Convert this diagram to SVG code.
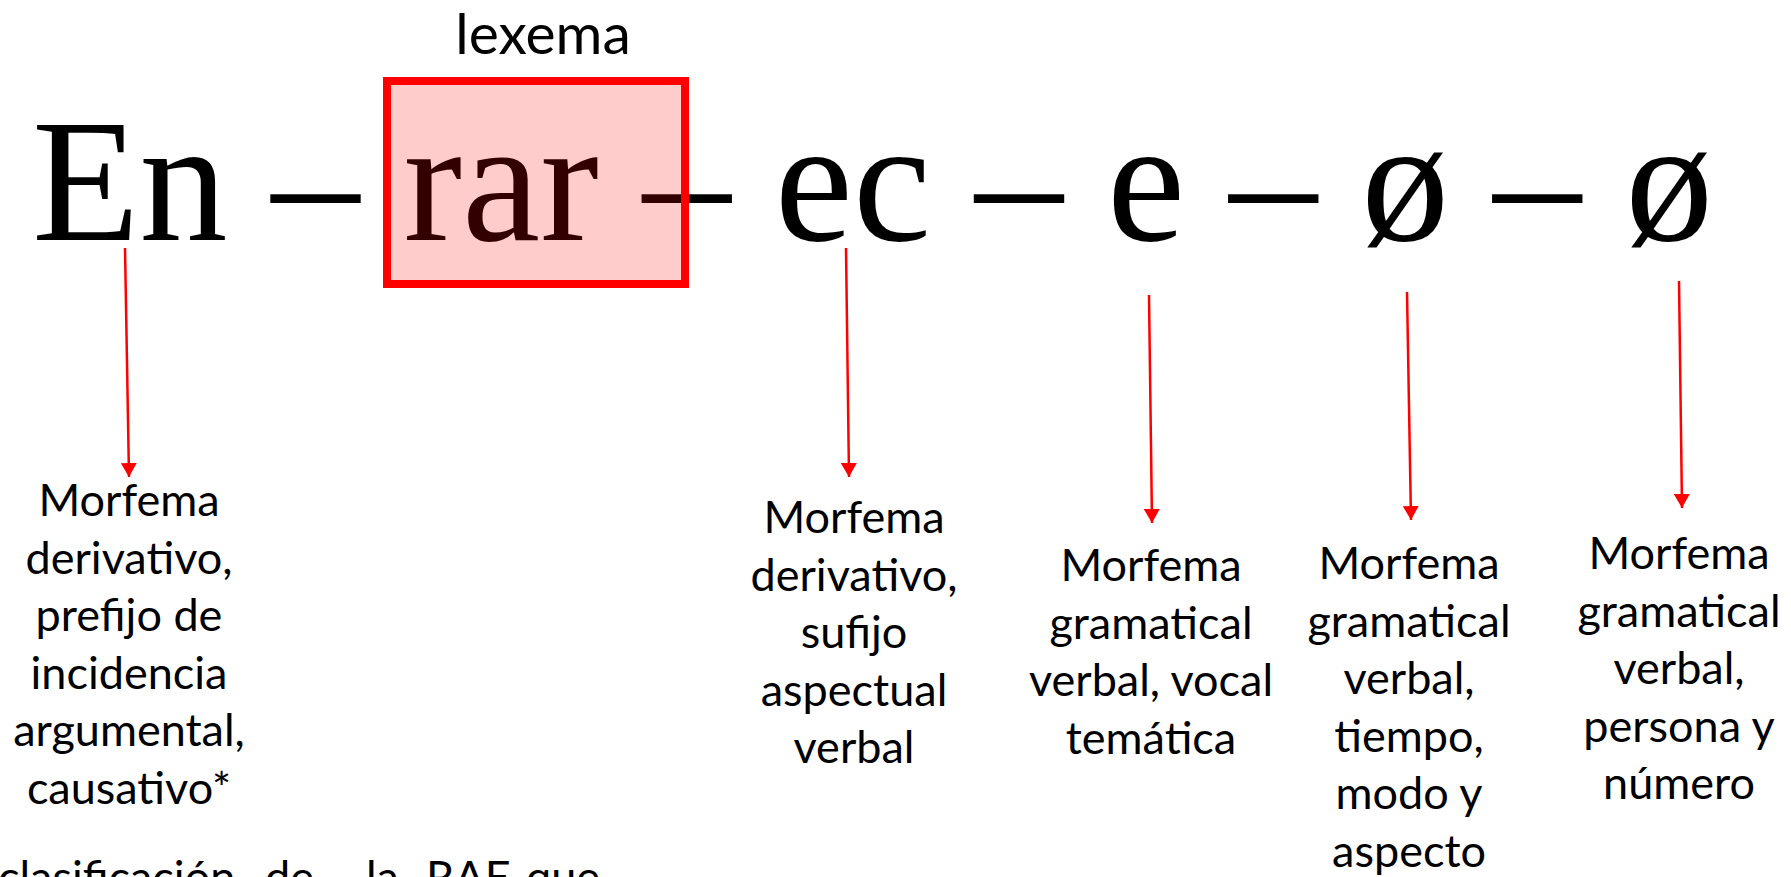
<svg xmlns="http://www.w3.org/2000/svg" width="1791" height="877" viewBox="0 0 1791 877">
<style>
.main{font-family:"Liberation Serif","Times New Roman",serif;font-size:176px;fill:#000}
.lab{font-family:Lato,"Open Sans",sans-serif;font-size:45px;fill:#000;text-anchor:middle}
.lex{font-family:Lato,"Open Sans",sans-serif;font-size:57px;fill:#000;text-anchor:middle}
.cap{font-family:Lato,"Open Sans",sans-serif;font-size:45px;fill:#000}
.arr{stroke:#FF0000;stroke-width:2.5;fill:none;marker-end:url(#ah)}
</style>
<defs>
<marker id="ah" markerUnits="userSpaceOnUse" viewBox="0 0 14 16" refX="14" refY="8" markerWidth="14" markerHeight="16" orient="auto">
<path d="M0,0 L14,8 L0,16 Z" fill="#FF0000"/>
</marker>
</defs>
<g id="word">
<text class="main" x="32" y="240" xml:space="preserve">En – rar – ec – e – ø – ø</text>
</g>
<g id="lexema">
<text class="lex" x="543" y="54">lexema</text>
<rect x="387" y="81" width="298" height="203" fill="#FF0000" fill-opacity="0.2" stroke="#FF0000" stroke-width="8"/>
</g>
<g id="connectors">
<path class="arr" d="M125,248 L129,477"/>
<path class="arr" d="M846,248 L849,477"/>
<path class="arr" d="M1149,295 L1152,523"/>
<path class="arr" d="M1407,292 L1411,520"/>
<path class="arr" d="M1679,281 L1682,508"/>
</g>
<g id="label-en">
<text class="lab" x="129" y="516"><tspan x="129">Morfema</tspan><tspan x="129" dy="57.5">derivativo,</tspan><tspan x="129" dy="57.5">prefijo de</tspan><tspan x="129" dy="57.5">incidencia</tspan><tspan x="129" dy="57.5">argumental,</tspan><tspan x="129" dy="57.5">causativo*</tspan></text>
</g>
<g id="label-ec">
<text class="lab" x="854" y="533"><tspan x="854">Morfema</tspan><tspan x="854" dy="57.5">derivativo,</tspan><tspan x="854" dy="57.5">sufijo</tspan><tspan x="854" dy="57.5">aspectual</tspan><tspan x="854" dy="57.5">verbal</tspan></text>
</g>
<g id="label-e">
<text class="lab" x="1151" y="581"><tspan x="1151">Morfema</tspan><tspan x="1151" dy="57.5">gramatical</tspan><tspan x="1151" dy="57.5">verbal, vocal</tspan><tspan x="1151" dy="57.5">temática</tspan></text>
</g>
<g id="label-o1">
<text class="lab" x="1409" y="579"><tspan x="1409">Morfema</tspan><tspan x="1409" dy="57.5">gramatical</tspan><tspan x="1409" dy="57.5">verbal,</tspan><tspan x="1409" dy="57.5">tiempo,</tspan><tspan x="1409" dy="57.5">modo y</tspan><tspan x="1409" dy="57.5">aspecto</tspan></text>
</g>
<g id="label-o2">
<text class="lab" x="1679" y="569"><tspan x="1679">Morfema</tspan><tspan x="1679" dy="57.5">gramatical</tspan><tspan x="1679" dy="57.5">verbal,</tspan><tspan x="1679" dy="57.5">persona y</tspan><tspan x="1679" dy="57.5">número</tspan></text>
</g>
<g id="footnote">
<text class="cap" y="893"><tspan x="-2">clasificación</tspan><tspan x="265">de</tspan><tspan x="366">la</tspan><tspan x="426">RAE</tspan><tspan x="526">que</tspan></text>
</g>
</svg>
